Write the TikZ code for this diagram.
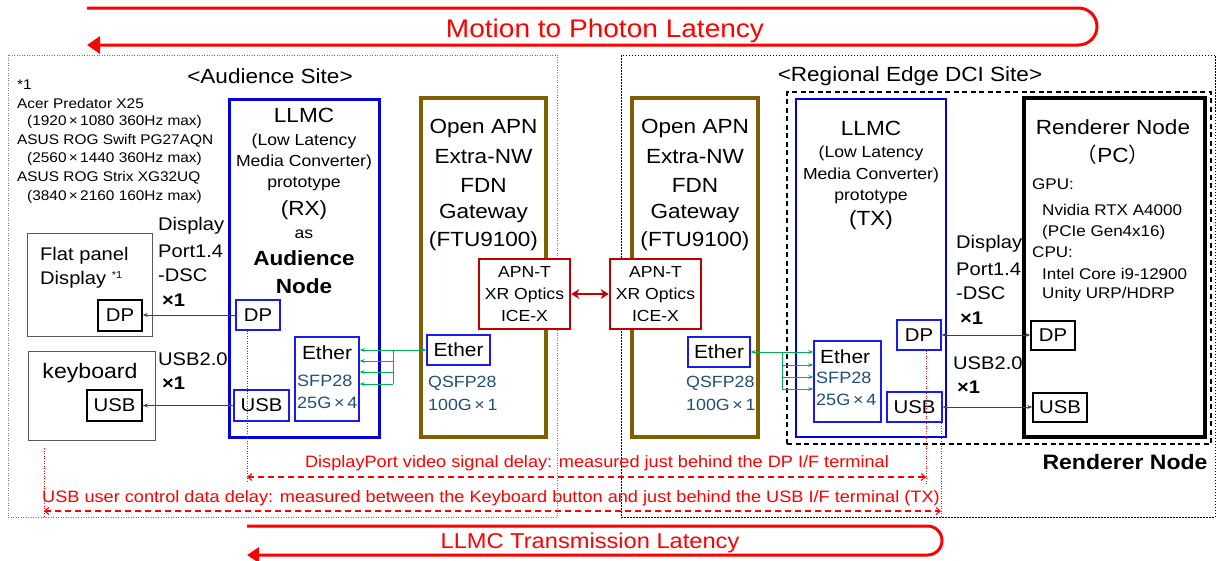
\documentclass[tikz,border=0pt]{standalone}
\usepackage{fontspec}
\setmainfont{Liberation Sans}[FakeStretch=1.1]
\newfontfamily\cjk{Noto Sans CJK JP}
\usetikzlibrary{arrows.meta,positioning,calc}

\definecolor{llmcblue}{RGB}{0,0,225}
\definecolor{portblue}{RGB}{25,25,245}
\definecolor{apnbrown}{RGB}{127,96,0}
\definecolor{optred}{RGB}{192,0,0}
\definecolor{ethgreen}{RGB}{0,176,80}
\definecolor{sfpblue}{RGB}{31,78,121}
\definecolor{wiregray}{RGB}{64,64,64}

\newcommand\fsz[1]{\fontsize{#1}{#1}\selectfont}

\tikzset{
  every unit/.style={draw, inner sep=0pt},
  llmc box/.style={every unit, llmcblue, line width=3pt},
  apn box/.style={every unit, apnbrown, line width=3.2pt},
  optic box/.style={every unit, optred, line width=2.6pt, fill=white, text=black,
    align=center, font=\fontsize{16}{22}\selectfont},
  pc box/.style={every unit, black, line width=3.2pt},
  dev box/.style={every unit, black!65, line width=1pt},
  port box/.style={every unit, portblue, line width=1.4pt, text=black, font=\fsz{18.5}},
  hw port/.style={every unit, black, line width=1.6pt, font=\fsz{18.5}},
  txt/.style={inner sep=0pt, font=\fsz{#1}},
  txt/.default=16,
  wire/.style={wiregray, line width=0.8pt},
  eth wire/.style={ethgreen, line width=0.9pt},
  latency/.style={red, line width=3pt, rounded corners=#1},
  meas/.style={red, line width=1.1pt, dash pattern=on 6pt off 4pt},
  meas dot/.style={red, line width=0.7pt, dash pattern=on 1pt off 1.5pt}
}

\begin{document}
\begin{tikzpicture}[x=1pt, y=-1pt, >={Stealth[length=5pt,width=4pt]}]
\useasboundingbox (0,0) rectangle (1216,560);

% sites
\node [draw, black!55, line width=0.8pt, dash pattern=on 1pt off 1.5pt,
  minimum width=549, minimum height=462] (aud) at (282.5,286) {};
\node [draw, line width=0.8pt, dash pattern=on 1.5pt off 1.5pt,
  minimum width=594, minimum height=462] (reg) at (918,286) {};
\node [draw, line width=1.4pt, dash pattern=on 5pt off 3.5pt,
  minimum width=424, minimum height=352] (rend) at (999,268) {};
\node [txt=20.5] (aud-t) at (270,76) {<Audience Site>};
\node [txt=20.5] (reg-t) at (910,76) {<Regional Edge DCI Site>};
\node [txt=20.9, font=\fsz{20.9}\bfseries] (rend-t) at (1125,462) {Renderer Node};

% latency arrows
\coordinate (mtp-tail) at (87,8);
\coordinate (mtp-head) at (87,45);
\draw [latency=18.5pt, -{Triangle[length=13pt,width=17pt]}]
  (mtp-tail) -- ++(1010,0) -- ++(0,37) -- (mtp-head);
\node [txt=25.5, red] (mtp) at (605,31) {Motion to Photon Latency};

\coordinate (tl-tail) at (247,526);
\coordinate (tl-head) at (247,555);
\draw [latency=14.5pt, -{Triangle[length=12pt,width=15pt]}]
  (tl-tail) -- ++(695,0) -- ++(0,29) -- (tl-head);
\node [txt=21.5, red] (tl) at (590,543) {LLMC Transmission Latency};

% audience side devices
\node [dev box, minimum width=125, minimum height=103] (fp) at (89.5,284.5) {};
\node [dev box, minimum width=127, minimum height=89] (kb) at (91.5,395.5) {};
\node [hw port, minimum width=44, minimum height=31] (fpdp) at (120,315.5) {DP};
\node [hw port, minimum width=55, minimum height=31] (kbusb) at (114.5,405.5) {USB};
\node [txt=18.3, anchor=west] (fp-1) at (40,256) {Flat panel};
\node [txt=18.3, anchor=west] (fp-2) at (40,280) {Display \raisebox{6pt}{\fsz{10}*1}};
\node [txt=21] (kb-t) at (90,373) {keyboard};

\foreach \t/\x/\y [count=\i] in {{*1}/17/85, {Acer Predator X25}/17/103,
    {(1920\,×\,1080 360Hz max)}/27/122, {ASUS ROG Swift PG27AQN}/17/141,
    {(2560\,×\,1440 360Hz max)}/27/159, {ASUS ROG Strix XG32UQ}/17/178,
    {(3840\,×\,2160 160Hz max)}/27/197}
  \node [txt=14, anchor=west] (note-\i) at (\x,\y) {\t};

% LLMC RX
\node [llmc box, minimum width=150, minimum height=338] (rx) at (304,268) {};
\foreach \t/\y/\s [count=\i] in {{LLMC}/115/20.5, {(Low Latency}/141/16,
    {Media Converter)}/162/16, {prototype}/184/16, {(RX)}/210/20.5, {as}/234/16,
    {\bfseries Audience}/258/20.5, {\bfseries Node}/286/20.5}
  \node [txt=\s] (rx-\i) at (304,\y) {\t};
\node [port box, minimum width=44, minimum height=30] (rxdp) at (258,315) {DP};
\node [port box, minimum width=55, minimum height=31] (rxusb) at (261.5,405.5) {USB};
\node [port box, minimum width=64, minimum height=84] (rxeth) at (327,379) {};
\node [txt=19] (rxeth-1) at (327,353) {Ether};
\node [txt=16.4, anchor=west, sfpblue] (rxeth-2) at (297,381) {SFP28};
\node [txt=16.4, anchor=west, sfpblue] (rxeth-3) at (297,403) {25G\,×\,4};

% gateways
\node [apn box, minimum width=125, minimum height=339] (apnL) at (483.5,267.5) {};
\node [apn box, minimum width=126, minimum height=339] (apnR) at (695,267.5) {};
\foreach \t/\y [count=\i] in {{Open APN}/128, {Extra-NW}/157, {FDN}/185,
    {Gateway}/213, {(FTU9100)}/241} {
  \node [txt=20.5] (apnL-\i) at (apnL.north |- 0,\y) {\t};
  \node [txt=20.5] (apnR-\i) at (apnR.north |- 0,\y) {\t};
}
\node [optic box, minimum width=91, minimum height=70] (optL) at (524.5,294) {APN-T\\XR Optics\\ICE-X};
\node [optic box, minimum width=91, minimum height=70] (optR) at (655.5,294) {APN-T\\XR Optics\\ICE-X};
\draw [optred, line width=2.6pt, {Stealth[length=8pt,width=10pt]}-{Stealth[length=8pt,width=10pt]}]
  (optL) -- (optR);

\node [port box, font=\fsz{19}, minimum width=63, minimum height=30] (ethL) at (458.5,350) {Ether};
\node [port box, font=\fsz{19}, minimum width=62, minimum height=30] (ethR) at (719,352) {Ether};
\foreach \n/\x in {L/428, R/686} {
  \node [txt=16.2, anchor=west, sfpblue] (q\n-1) at (\x,383) {QSFP28};
  \node [txt=16.2, anchor=west, sfpblue] (q\n-2) at (\x,405) {100G\,×\,1};
}

% LLMC TX
\node [llmc box, line width=2.2pt, minimum width=150, minimum height=338] (tx) at (871,268) {};
\foreach \t/\y/\s [count=\i] in {{LLMC}/128/20.5, {(Low Latency}/153/16,
    {Media Converter)}/175/16, {prototype}/197/16, {(TX)}/220/20.5}
  \node [txt=\s] (tx-\i) at (871,\y) {\t};
\node [port box, minimum width=44, minimum height=30] (txdp) at (919,335) {DP};
\node [port box, minimum width=55, minimum height=30] (txusb) at (914.5,407) {USB};
\node [port box, minimum width=67, minimum height=81] (txeth) at (847.5,381.5) {};
\node [txt=19, anchor=west] (txeth-1) at (820,357) {Ether};
\node [txt=16.4, anchor=west, sfpblue] (txeth-2) at (816,378) {SFP28};
\node [txt=16.4, anchor=west, sfpblue] (txeth-3) at (816,400) {25G\,×\,4};

% renderer PC
\node [pc box, minimum width=181, minimum height=339] (pc) at (1114.5,267.5) {};
\node [txt=20.5] (pc-1) at (1113,127) {Renderer Node};
\node [txt=20.5] (pc-2) at (1113,155) {{\cjk （}PC{\cjk ）}};
\foreach \t/\x/\y [count=\i] in {{GPU:}/1032/184, {Nvidia RTX A4000}/1042/210,
    {(PCIe Gen4x16)}/1042/232, {CPU:}/1032/252, {Intel Core i9-12900}/1042/274,
    {Unity URP/HDRP}/1042/294}
  \node [txt=15.5, anchor=west] (spec-\i) at (\x,\y) {\t};
\node [hw port, minimum width=44, minimum height=29] (pcdp) at (1053,335.5) {DP};
\node [hw port, minimum width=54, minimum height=29] (pcusb) at (1060,407.5) {USB};

% interface labels
\foreach \x/\y/\n in {158/226/L, 956/244/R} {
  \node [txt=18.3, anchor=west] (dpl\n-1) at (\x,\y) {Display};
  \node [txt=18.3, anchor=west] (dpl\n-2) at (\x,\y+25) {Port1.4};
  \node [txt=18.3, anchor=west] (dpl\n-3) at (\x,\y+49) {-DSC};
  \node [txt=18.3, anchor=west, font=\fsz{18.3}\bfseries] (dpl\n-4) at (\x+4,\y+74) {×1};
}
\foreach \x/\y/\n in {158/359/L, 953/363/R} {
  \node [txt=18.3, anchor=west] (usbl\n-1) at (\x,\y) {USB2.0};
  \node [txt=18.3, anchor=west, font=\fsz{18.3}\bfseries] (usbl\n-2) at (\x+4,\y+24) {×1};
}

% wires
\draw [wire, ->] (rxdp.west) -- (rxdp.west -| fpdp.east);
\draw [wire, <->] (kbusb.east) -- (kbusb.east -| rxusb.west);
\draw [wire, <->] (txdp.east) -- (txdp.east -| pcdp.west);
\draw [wire, <->] (txusb.east) -- (txusb.east -| pcusb.west);

\draw [eth wire, <->] (ethL.west) -- (ethL.west -| rxeth.east);
\coordinate (brL) at (ethL.west -| 393,0);
\draw [eth wire] (brL) -- (brL |- 0,384);
\foreach \y in {361,372,384}
  \draw [eth wire, ->] (brL |- 0,\y) -- (rxeth.east |- 0,\y);

\draw [eth wire, <->] (ethR.east) -- (ethR.east -| txeth.west);
\coordinate (brR) at (ethR.east -| 782,0);
\draw [eth wire] (brR) -- (brR |- 0,389);
\foreach \y in {365,377,389}
  \draw [eth wire, ->] (brR |- 0,\y) -- (txeth.west |- 0,\y);

% measurement
\coordinate (m-rxdp) at (247,477);
\coordinate (m-txdp) at (926,477);
\coordinate (m-kb) at (44,511);
\coordinate (m-txusb) at (941,511);
\draw [meas dot] (rxdp.south -| m-rxdp) -- ++(0,152);
\draw [meas dot] (txdp.south -| m-txdp) -- ++(0,135);
\draw [meas dot] (m-kb) ++(0,-63) -- ++(0,69);
\draw [meas dot] (txusb.south -| m-txusb) ++(0,-7) -- ++(0,102);
\draw [meas, {Straight Barb[length=4pt,width=7pt]}-{Straight Barb[length=4pt,width=7pt]}]
  (m-rxdp) -- (m-txdp);
\draw [meas, {Straight Barb[length=4pt,width=7pt]}-{Straight Barb[length=4pt,width=7pt]}]
  (m-kb) -- (m-txusb);
\node [txt=16.5, red] (dp-delay) at (597,463)
  {DisplayPort video signal delay: measured just behind the DP I/F terminal};
\node [txt=16.5, red] (usb-delay) at (491,498)
  {USB user control data delay: measured between the Keyboard button and just behind the USB I/F terminal (TX)};

\end{tikzpicture}
\end{document}
